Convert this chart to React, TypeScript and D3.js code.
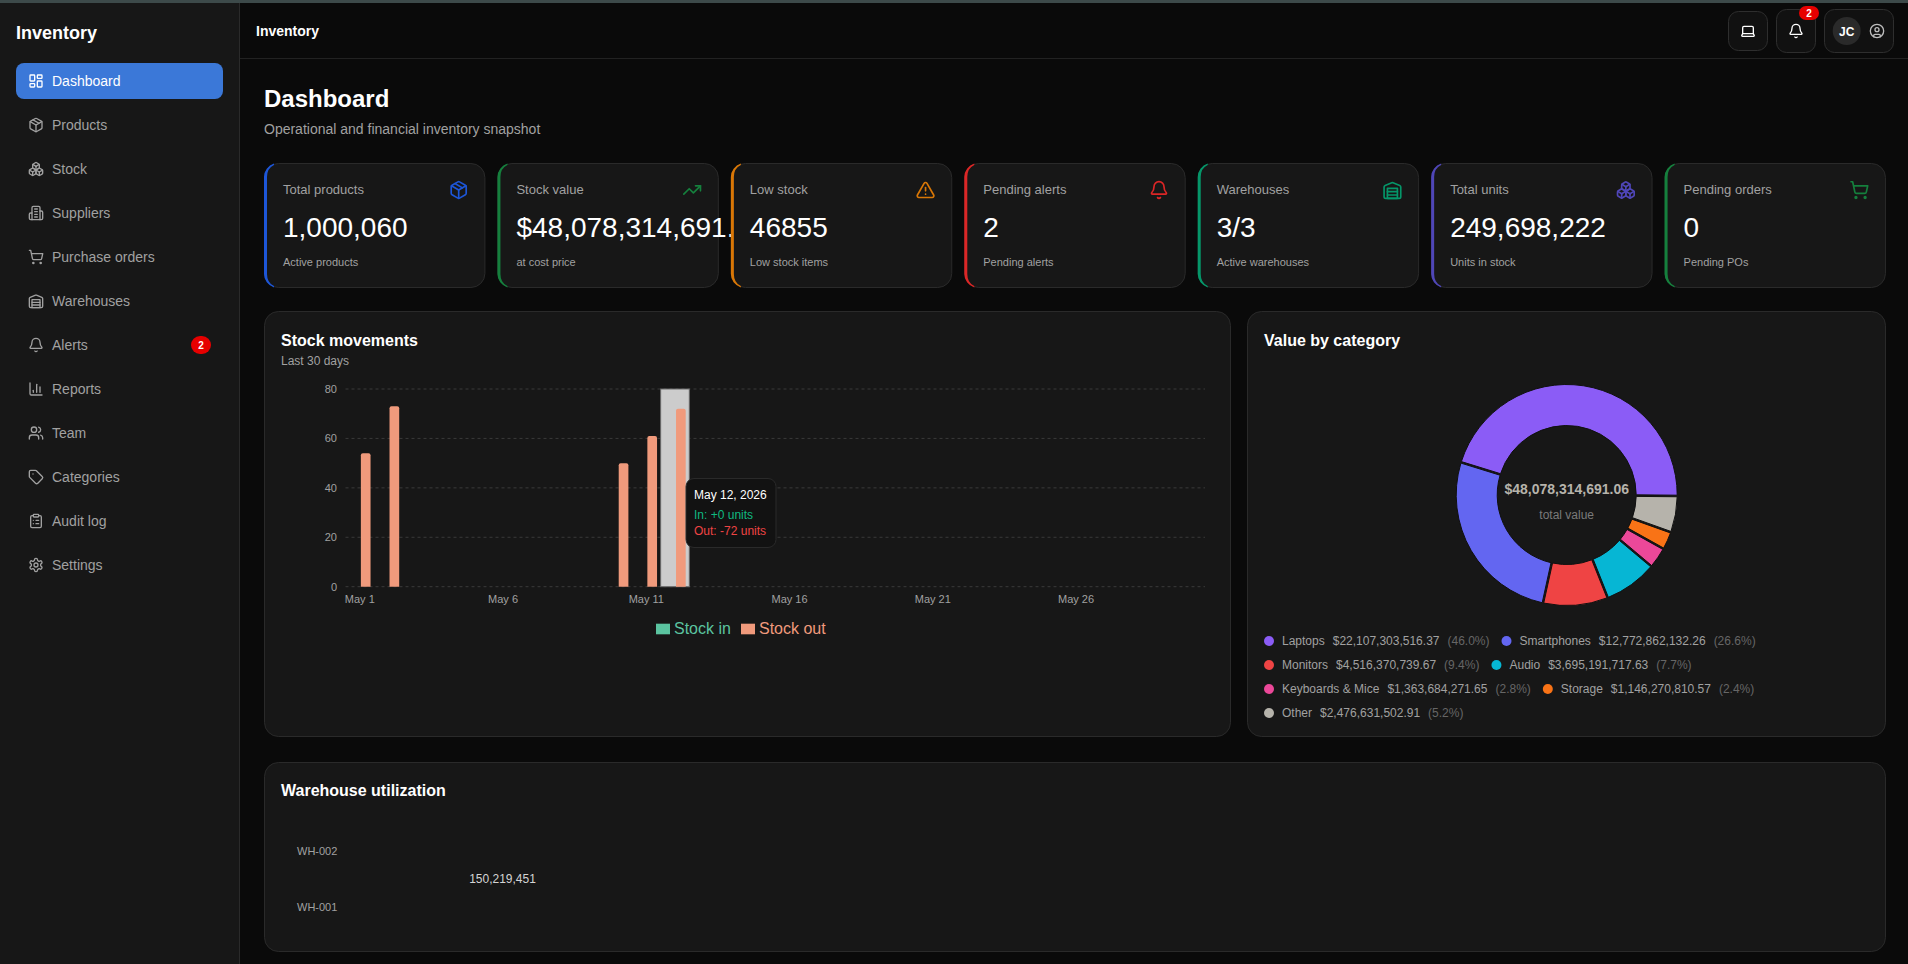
import React, { useMemo } from "react";
import { arc, pie, scaleBand, scaleLinear } from "d3";

const FONT = '"Liberation Sans", Arial, sans-serif';

const navItems = ["Dashboard", "Products", "Stock", "Suppliers", "Purchase orders", "Warehouses", "Alerts", "Reports", "Team", "Categories", "Audit log", "Settings"];
const navIcons = ["dashboard", "package", "boxes", "building", "cart", "warehouse", "bell", "bars", "users", "tag", "clipboard", "gear"];

const kpiLabels = ["Total products", "Stock value", "Low stock", "Pending alerts", "Warehouses", "Total units", "Pending orders"];
// the stock value runs under the next card in the reference, so only this much of it shows
const kpiValues = ["1,000,060", "$48,078,314,691.", "46855", "2", "3/3", "249,698,222", "0"];
const kpiNotes = ["Active products", "at cost price", "Low stock items", "Pending alerts", "Active warehouses", "Units in stock", "Pending POs"];
const kpiIcons = ["package", "trend", "alert", "bell", "warehouse", "boxes", "cart"];
const kpiColors = ["#1d56d8", "#15803d", "#d97706", "#dc2626", "#059669", "#4f46b8", "#15803d"];

const days = ["May 1", "May 2", "May 3", "May 4", "May 5", "May 6", "May 7", "May 8", "May 9", "May 10", "May 11", "May 12", "May 13", "May 14", "May 15", "May 16", "May 17", "May 18", "May 19", "May 20", "May 21", "May 22", "May 23", "May 24", "May 25", "May 26", "May 27", "May 28", "May 29", "May 30"];
const dayTicks = ["May 1", "May 6", "May 11", "May 16", "May 21", "May 26"];
const stockIn = [0, 0, 0, 0, 0, 0, 0, 0, 0, 0, 0, 0, 0, 0, 0, 0, 0, 0, 0, 0, 0, 0, 0, 0, 0, 0, 0, 0, 0, 0];
const stockOut = [54, 73, 0, 0, 0, 0, 0, 0, 0, 50, 61, 72, 0, 0, 0, 0, 0, 0, 0, 0, 0, 0, 0, 0, 0, 0, 0, 0, 0, 0];
const hoveredDay = "May 12";

const categories = ["Laptops", "Smartphones", "Monitors", "Audio", "Keyboards & Mice", "Storage", "Other"];
const categoryValues = [22107303516.37, 12772862132.26, 4516370739.67, 3695191717.63, 1363684271.65, 1146270810.57, 2476631502.91];
const categoryColors = ["#8b5cf6", "#6366f1", "#ef4444", "#06b6d4", "#ec4899", "#f97316", "#b6b3ab"];
const legendRows = [[0, 1], [2, 3], [4, 5], [6]];

const warehouses = ["WH-002", "WH-001"];
const warehouseUnits = "150,219,451";

const ICONS: Record<string, string[]> = {
  dashboard: ["M4 3h5a1 1 0 0 1 1 1v7a1 1 0 0 1-1 1H4a1 1 0 0 1-1-1V4a1 1 0 0 1 1-1z", "M15 3h5a1 1 0 0 1 1 1v3a1 1 0 0 1-1 1h-5a1 1 0 0 1-1-1V4a1 1 0 0 1 1-1z", "M15 12h5a1 1 0 0 1 1 1v7a1 1 0 0 1-1 1h-5a1 1 0 0 1-1-1v-7a1 1 0 0 1 1-1z", "M4 16h5a1 1 0 0 1 1 1v3a1 1 0 0 1-1 1H4a1 1 0 0 1-1-1v-3a1 1 0 0 1 1-1z"],
  package: ["M11 21.73a2 2 0 0 0 2 0l7-4A2 2 0 0 0 21 16V8a2 2 0 0 0-1-1.73l-7-4a2 2 0 0 0-2 0l-7 4A2 2 0 0 0 3 8v8a2 2 0 0 0 1 1.73z", "M12 22V12", "M3.3 7 12 12l8.7-5", "M7.5 4.27l9 5.15"],
  boxes: ["M2.97 12.92A2 2 0 0 0 2 14.63v3.24a2 2 0 0 0 .97 1.71l3 1.8a2 2 0 0 0 2.06 0L12 19v-5.5l-5-3-4.03 2.42Z", "m7 16.5-4.74-2.85", "m7 16.5 5-3", "M7 16.5v5.17", "M12 13.5V19l3.97 2.38a2 2 0 0 0 2.06 0l3-1.8a2 2 0 0 0 .97-1.71v-3.24a2 2 0 0 0-.97-1.71L17 10.5l-5 3Z", "m17 16.5-5-3", "m17 16.5 4.74-2.85", "M17 16.5v5.17", "M7.97 4.42A2 2 0 0 0 7 6.13v4.37l5 3 5-3V6.13a2 2 0 0 0-.97-1.71l-3-1.8a2 2 0 0 0-2.06 0l-3 1.8Z", "M12 8 7.26 5.15", "m12 8 4.74-2.85", "M12 13.5V8"],
  building: ["M6 22V4a2 2 0 0 1 2-2h8a2 2 0 0 1 2 2v18Z", "M6 12H4a2 2 0 0 0-2 2v6a2 2 0 0 0 2 2h2", "M18 9h2a2 2 0 0 1 2 2v9a2 2 0 0 1-2 2h-2", "M10 6h4", "M10 10h4", "M10 14h4", "M10 18h4"],
  cart: ["M7 21a1 1 0 1 0 2 0a1 1 0 1 0-2 0", "M18 21a1 1 0 1 0 2 0a1 1 0 1 0-2 0", "M2.05 2.05h2l2.66 12.42a2 2 0 0 0 2 1.58h9.78a2 2 0 0 0 1.95-1.57l1.65-7.43H5.12"],
  warehouse: ["M22 8.35V20a2 2 0 0 1-2 2H4a2 2 0 0 1-2-2V8.35A2 2 0 0 1 3.26 6.5l8-3.2a2 2 0 0 1 1.48 0l8 3.2A2 2 0 0 1 22 8.35Z", "M6 18h12", "M6 14h12", "M6 10h12v12H6z"],
  bell: ["M10.268 21a2 2 0 0 0 3.464 0", "M3.262 15.326A1 1 0 0 0 4 17h16a1 1 0 0 0 .74-1.673C19.41 13.956 18 12.499 18 8A6 6 0 0 0 6 8c0 4.499-1.411 5.956-2.738 7.326"],
  bars: ["M3 3v16a2 2 0 0 0 2 2h16", "M18 17V9", "M13 17V5", "M8 17v-3"],
  users: ["M16 21v-2a4 4 0 0 0-4-4H6a4 4 0 0 0-4 4v2", "M5 7a4 4 0 1 0 8 0a4 4 0 1 0-8 0", "M22 21v-2a4 4 0 0 0-3-3.87", "M16 3.13a4 4 0 0 1 0 7.75"],
  tag: ["M12.586 2.586A2 2 0 0 0 11.172 2H4a2 2 0 0 0-2 2v7.172a2 2 0 0 0 .586 1.414l8.704 8.704a2.426 2.426 0 0 0 3.42 0l6.58-6.58a2.426 2.426 0 0 0 0-3.42z", "M7.5 7.5h.01"],
  clipboard: ["M9 2h6a1 1 0 0 1 1 1v2a1 1 0 0 1-1 1H9a1 1 0 0 1-1-1V3a1 1 0 0 1 1-1z", "M16 4h2a2 2 0 0 1 2 2v14a2 2 0 0 1-2 2H6a2 2 0 0 1-2-2V6a2 2 0 0 1 2-2h2", "M12 11h4", "M12 16h4", "M8 11h.01", "M8 16h.01"],
  gear: ["M12.22 2h-.44a2 2 0 0 0-2 2v.18a2 2 0 0 1-1 1.73l-.43.25a2 2 0 0 1-2 0l-.15-.08a2 2 0 0 0-2.73.73l-.22.38a2 2 0 0 0 .73 2.73l.15.1a2 2 0 0 1 1 1.72v.51a2 2 0 0 1-1 1.74l-.15.09a2 2 0 0 0-.73 2.73l.22.38a2 2 0 0 0 2.73.73l.15-.08a2 2 0 0 1 2 0l.43.25a2 2 0 0 1 1 1.73V20a2 2 0 0 0 2 2h.44a2 2 0 0 0 2-2v-.18a2 2 0 0 1 1-1.73l.43-.25a2 2 0 0 1 2 0l.15.08a2 2 0 0 0 2.73-.73l.22-.39a2 2 0 0 0-.73-2.73l-.15-.08a2 2 0 0 1-1-1.74v-.5a2 2 0 0 1 1-1.74l.15-.09a2 2 0 0 0 .73-2.73l-.22-.38a2 2 0 0 0-2.73-.73l-.15.08a2 2 0 0 1-2 0l-.43-.25a2 2 0 0 1-1-1.73V4a2 2 0 0 0-2-2z", "M9 12a3 3 0 1 0 6 0a3 3 0 1 0-6 0"],
  trend: ["M22 7 13.5 15.5 8.5 10.5 2 17", "M16 7h6v6"],
  alert: ["m21.73 18-8-14a2 2 0 0 0-3.48 0l-8 14A2 2 0 0 0 4 21h16a2 2 0 0 0 1.73-3", "M12 9v4", "M12 17h.01"],
  laptop: ["M20 16V7a2 2 0 0 0-2-2H6a2 2 0 0 0-2 2v9m16 0H4m16 0 1.28 2.55a1 1 0 0 1-.9 1.45H3.62a1 1 0 0 1-.9-1.45L4 16"],
  user: ["M2 12a10 10 0 1 0 20 0a10 10 0 1 0-20 0", "M9 10a3 3 0 1 0 6 0a3 3 0 1 0-6 0", "M7 20.662V19a2 2 0 0 1 2-2h6a2 2 0 0 1 2 2v1.662"],
};

const Icon = ({ name, cx, cy, size, color }: { name: string; cx: number; cy: number; size: number; color: string }) => (
  <g transform={`translate(${cx - size / 2},${cy - size / 2}) scale(${size / 24})`} fill="none" stroke={color} strokeWidth={2} strokeLinecap="round" strokeLinejoin="round">
    {ICONS[name].map((d) => (
      <path key={d} d={d} />
    ))}
  </g>
);

const Panel = ({ x, y, w, h, r = 14 }: { x: number; y: number; w: number; h: number; r?: number }) => (
  <rect x={x + 0.5} y={y + 0.5} width={w - 1} height={h - 1} rx={r} fill="#171717" stroke="#2a2a2a" />
);

const Sidebar = () => {
  const rowY = scaleLinear().domain([0, 1]).range([81, 125]);
  return (
    <g>
      <rect x={0} y={0} width={239.5} height={964} fill="#171717" />
      <line x1={239.5} x2={239.5} y1={0} y2={964} stroke="#2a2a2a" />
      <text x={16} y={39} fontSize={18} fontWeight={700} fill="#fff">Inventory</text>
      <rect x={16} y={63} width={207} height={36} rx={8} fill="#3b78d8" />
      {navItems.map((item, i) => {
        const color = i === 0 ? "#fff" : "#a1a1a1";
        return (
          <g key={item}>
            <Icon name={navIcons[i]} cx={36} cy={rowY(i)} size={16} color={color} />
            <text x={52} y={rowY(i) + 5} fontSize={14} fill={color}>{item}</text>
          </g>
        );
      })}
      <rect x={191} y={336} width={20} height={18} rx={9} fill="#e60000" />
      <text x={201} y={348.5} fontSize={10} fontWeight={700} fill="#fff" textAnchor="middle">2</text>
    </g>
  );
};

const Header = () => (
  <g>
    <line x1={240} x2={1908} y1={58.5} y2={58.5} stroke="#222" />
    <text x={256} y={36} fontSize={14} fontWeight={700} fill="#fff">Inventory</text>
    <rect x={1728.5} y={11.5} width={39} height={39} rx={10} fill="#111" stroke="#2e2e2e" />
    <Icon name="laptop" cx={1748} cy={31} size={16} color="#fff" />
    <rect x={1776.5} y={9.5} width={39} height={43} rx={10} fill="#111" stroke="#2e2e2e" />
    <Icon name="bell" cx={1796} cy={31} size={16} color="#fff" />
    <rect x={1799} y={6} width={20} height={14} rx={7} fill="#e60000" />
    <text x={1809} y={16.5} fontSize={10} fontWeight={700} fill="#fff" textAnchor="middle">2</text>
    <rect x={1824.5} y={9.5} width={69} height={43} rx={10} fill="#111" stroke="#2e2e2e" />
    <circle cx={1846.7} cy={31} r={14} fill="#2a2a2a" />
    <text x={1846.7} y={35.5} fontSize={12} fontWeight={700} fill="#fff" textAnchor="middle">JC</text>
    <Icon name="user" cx={1877} cy={31} size={16} color="#bdbdbd" />
  </g>
);

const KpiCard = ({ i, x, w }: { i: number; x: number; w: number }) => {
  const y = 163;
  const h = 125;
  const crescent = `M${x + 10},${y + 0.6}A14,14 0 0 0 ${x},${y + 14}V${y + h - 14}A14,14 0 0 0 ${x + 10},${y + h - 0.6}L${x + 10},${y + h - 1.9}A11,13 0 0 1 ${x + 3},${y + h - 14}V${y + 14}A11,13 0 0 1 ${x + 10},${y + 1.9}Z`;
  return (
    <g>
      <Panel x={x} y={y} w={w} h={h} />
      <path d={crescent} fill={kpiColors[i]} />
      <text x={x + 19} y={194} fontSize={13} fill="#a1a1a1">{kpiLabels[i]}</text>
      <text x={x + 19} y={237} fontSize={28} fill="#fff">{kpiValues[i]}</text>
      <text x={x + 19} y={266} fontSize={11} fill="#a1a1a1">{kpiNotes[i]}</text>
      <Icon name={kpiIcons[i]} cx={x + w - 26.7} cy={190} size={20} color={kpiColors[i]} />
    </g>
  );
};

const KpiRow = () => (
  <g>
    {kpiLabels.map((label, i) => (
      <KpiCard key={label} i={i} x={264 + i * 233.43} w={221.4} />
    ))}
  </g>
);

const topRoundedBar = (x: number, y: number, w: number, bottom: number, r: number) =>
  `M${x},${bottom}V${y + r}A${r},${r} 0 0 1 ${x + r},${y}H${x + w - r}A${r},${r} 0 0 1 ${x + w},${y + r}V${bottom}Z`;

const StockChart = () => {
  const x = scaleBand<string>().domain(days).range([345.5, 1205]);
  const y = scaleLinear().domain([0, 80]).range([586.7, 389]);
  const step = x.bandwidth();
  const group = scaleBand<string>().domain(["in", "out"]).range([4.6, step - 3.6]).paddingInner(0.1);
  const hoverX = x(hoveredDay)!;

  return (
    <g>
      <Panel x={264} y={311} w={967} h={426} />
      <text x={281} y={346} fontSize={16} fontWeight={700} fill="#fff">Stock movements</text>
      <text x={281} y={365} fontSize={12} fill="#a1a1a1">Last 30 days</text>

      {y.ticks(4).map((t) => (
        <g key={t}>
          <line x1={345.5} x2={1205} y1={y(t)} y2={y(t)} stroke="#3a3a3a" strokeDasharray="3 3" />
          <text x={337} y={y(t) + 4} fontSize={11} fill="#a1a1a1" textAnchor="end">{t}</text>
        </g>
      ))}
      {dayTicks.map((d) => (
        <text key={d} x={x(d)! + step / 2} y={603} fontSize={11} fill="#a1a1a1" textAnchor="middle">{d}</text>
      ))}

      <rect x={hoverX} y={y(80)} width={step} height={y(0) - y(80)} fill="#cccccc" stroke="#6a6a6a" />

      {days.map((d, i) =>
        stockIn[i] > 0 ? (
          <path key={d} d={topRoundedBar(x(d)! + group("in")!, y(stockIn[i]), group.bandwidth(), y(0), 2)} fill="#5bc4a0" />
        ) : null
      )}
      {days.map((d, i) =>
        stockOut[i] > 0 ? (
          <path key={d} d={topRoundedBar(x(d)! + group("out")!, y(stockOut[i]), group.bandwidth(), y(0), 2)} fill="#f09a7c" />
        ) : null
      )}

      <rect x={656} y={623.7} width={14} height={10.6} fill="#5bc4a0" />
      <text x={674} y={634} fontSize={16} fill="#5bc4a0">Stock in</text>
      <rect x={741} y={623.7} width={14} height={10.6} fill="#f09a7c" />
      <text x={759} y={634} fontSize={16} fill="#f09a7c">Stock out</text>

      <rect x={686} y={478.5} width={90} height={69} rx={8} fill="#121212" stroke="#2a2a2a" />
      <text x={694} y={499} fontSize={12} fill="#fff">May 12, 2026</text>
      <text x={694} y={519} fontSize={12} fill="#10b981">In: +{stockIn[days.indexOf(hoveredDay)]} units</text>
      <text x={694} y={535} fontSize={12} fill="#ef4444">Out: -{stockOut[days.indexOf(hoveredDay)]} units</text>
    </g>
  );
};

const money = (v: number) => "$" + v.toLocaleString("en-US", { minimumFractionDigits: 2, maximumFractionDigits: 2 });

const DonutChart = () => {
  const cx = 1566.7;
  const cy = 495;
  const total = categoryValues.reduce((a, b) => a + b, 0);
  const gap = Math.PI / 180;
  // starts at three o'clock and runs counter-clockwise, 1 degree between slices
  const slices = pie<number>().sort(null).padAngle(gap).startAngle(Math.PI / 2 + gap / 2).endAngle(Math.PI / 2 + gap / 2 - 2 * Math.PI)(categoryValues);
  const slice = arc<any>().innerRadius(69.5).outerRadius(110.5).padRadius(90);

  const measure = useMemo(() => {
    const ctx = document.createElement("canvas").getContext("2d")!;
    ctx.font = `12px ${FONT}`;
    return (s: string) => ctx.measureText(s).width;
  }, []);

  return (
    <g>
      <Panel x={1247} y={311} w={639} h={426} />
      <text x={1264} y={346} fontSize={16} fontWeight={700} fill="#fff">Value by category</text>
      <g transform={`translate(${cx},${cy})`}>
        {slices.map((s, i) => (
          <path key={categories[i]} d={slice(s)!} fill={categoryColors[i]} stroke="#101010" strokeWidth={1} />
        ))}
      </g>
      <text x={cx} y={494} fontSize={14} fontWeight={700} fill="#b6b3ab" textAnchor="middle">{money(total)}</text>
      <text x={cx} y={519} fontSize={12} fill="#7a7a7a" textAnchor="middle">total value</text>

      {legendRows.map((row, r) => {
        const rowY = 641 + r * 24;
        let cursor = 1264;
        return row.map((i) => {
          const value = money(categoryValues[i]);
          const pct = `(${((categoryValues[i] / total) * 100).toFixed(1)}%)`;
          const dotX = cursor;
          const labelX = dotX + 18;
          const valueX = labelX + measure(categories[i]) + 8;
          const pctX = valueX + measure(value) + 8;
          cursor = pctX + measure(pct) + 12;
          return (
            <g key={categories[i]} fontSize={12}>
              <circle cx={dotX + 5} cy={rowY} r={5} fill={categoryColors[i]} />
              <text x={labelX} y={rowY + 4} fill="#a1a1a1">{categories[i]}</text>
              <text x={valueX} y={rowY + 4} fill="#a1a1a1">{value}</text>
              <text x={pctX} y={rowY + 4} fill="#666">{pct}</text>
            </g>
          );
        });
      })}
    </g>
  );
};

const WarehouseChart = () => {
  const y = scaleBand<string>().domain(warehouses).range([823, 935]);
  return (
    <g>
      <Panel x={264} y={762} w={1622} h={190} />
      <text x={281} y={795.5} fontSize={16} fontWeight={700} fill="#fff">Warehouse utilization</text>
      {warehouses.map((w) => (
        <text key={w} x={297} y={y(w)! + y.bandwidth() / 2 + 4} fontSize={11} fill="#a1a1a1">{w}</text>
      ))}
      <text x={502.5} y={y("WH-001")! + 4} fontSize={12} fill="#d4d4d4" textAnchor="middle">{warehouseUnits}</text>
    </g>
  );
};

export default function App() {
  return (
    <svg width={1908} height={964} style={{ position: "absolute", left: 0, top: 0, display: "block" }} fontFamily={FONT}>
      <rect x={0} y={0} width={1908} height={964} fill="#0a0a0a" />
      <Sidebar />
      <Header />
      <rect x={0} y={0} width={1908} height={3} fill="#3d4a4a" />
      <text x={264} y={107} fontSize={24} fontWeight={700} fill="#fff">Dashboard</text>
      <text x={264} y={134} fontSize={14} fill="#a1a1a1">Operational and financial inventory snapshot</text>
      <KpiRow />
      <StockChart />
      <DonutChart />
      <WarehouseChart />
    </svg>
  );
}
